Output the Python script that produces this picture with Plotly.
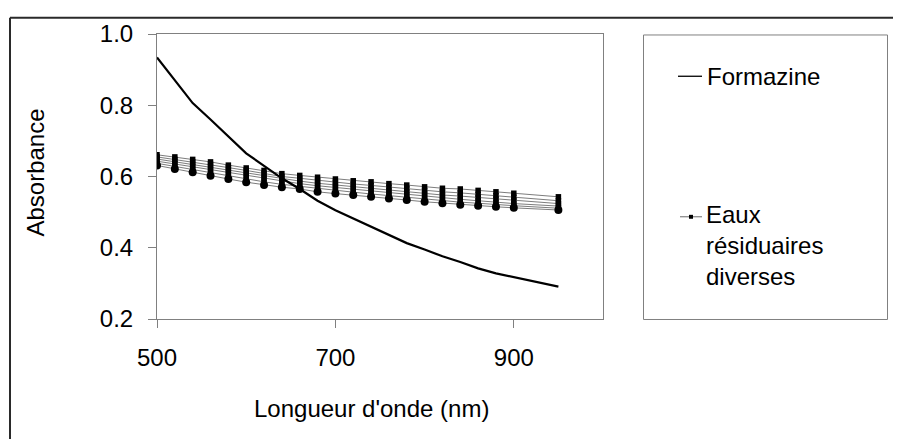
import plotly.graph_objects as go

# ---------------- data ----------------
wavelength = [500, 520, 540, 560, 580, 600, 620, 640, 660, 680, 700,
              720, 740, 760, 780, 800, 820, 840, 860, 880, 900, 950]

formazine = [0.934, 0.870, 0.806, 0.760, 0.712, 0.665, 0.630, 0.595, 0.565, 0.532, 0.505,
             0.482, 0.458, 0.435, 0.413, 0.395, 0.376, 0.360, 0.342, 0.328, 0.317, 0.291]

eaux_1 = [0.661, 0.655, 0.648, 0.641, 0.632, 0.624, 0.617, 0.608, 0.603, 0.598, 0.593,
          0.588, 0.585, 0.580, 0.576, 0.571, 0.567, 0.565, 0.561, 0.557, 0.553, 0.543]
eaux_2 = [0.655, 0.648, 0.641, 0.634, 0.625, 0.617, 0.609, 0.600, 0.595, 0.589, 0.584,
          0.579, 0.575, 0.570, 0.566, 0.561, 0.557, 0.554, 0.550, 0.546, 0.542, 0.532]
eaux_3 = [0.649, 0.641, 0.633, 0.626, 0.617, 0.609, 0.601, 0.593, 0.587, 0.581, 0.576,
          0.571, 0.566, 0.561, 0.557, 0.552, 0.548, 0.545, 0.541, 0.537, 0.533, 0.524]
eaux_4 = [0.643, 0.635, 0.627, 0.619, 0.610, 0.602, 0.594, 0.586, 0.580, 0.574, 0.569,
          0.564, 0.559, 0.554, 0.549, 0.545, 0.540, 0.536, 0.532, 0.528, 0.524, 0.517]
eaux_5 = [0.637, 0.628, 0.619, 0.610, 0.601, 0.593, 0.585, 0.578, 0.572, 0.566, 0.560,
          0.556, 0.551, 0.546, 0.541, 0.537, 0.532, 0.528, 0.525, 0.521, 0.518, 0.511]
eaux_6 = [0.631, 0.621, 0.612, 0.602, 0.593, 0.584, 0.576, 0.570, 0.565, 0.557, 0.552,
          0.548, 0.543, 0.538, 0.534, 0.529, 0.525, 0.521, 0.518, 0.515, 0.512, 0.506]

eaux_series = [eaux_1, eaux_2, eaux_3, eaux_4, eaux_5, eaux_6]

x_ticks = [500, 700, 900]
y_ticks = [0.2, 0.4, 0.6, 0.8, 1.0]

x_title = "Longueur d'onde (nm)"
y_title = "Absorbance"
legend_formazine = "Formazine"
legend_eaux = "Eaux<br>résiduaires<br>diverses"

# ---------------- layout constants (page pixels) ----------------
PAGE_W, PAGE_H = 901, 439
OFF = 8                       # default body margin of the page
W, H = PAGE_W - OFF, PAGE_H - OFF
PLOT_L, PLOT_R, PLOT_T, PLOT_B = 157, 603, 29, 319   # page coordinates
ML = PLOT_L - OFF
MR = W - (PLOT_R - OFF)
MT = PLOT_T - OFF
MB = H - (PLOT_B - OFF)
PW = PLOT_R - PLOT_L
PH = PLOT_B - PLOT_T
FONT = "Liberation Sans, Arial, sans-serif"
FS = 24
FS_LEG = 24


def px_x(p):
    return (p - PLOT_L) / PW


def px_y(p):
    return (PLOT_B - p) / PH


fig = go.Figure()

for i, s in enumerate(eaux_series):
    last = i == len(eaux_series) - 1
    fig.add_trace(go.Scatter(
        x=wavelength, y=s, mode="lines+markers",
        line=dict(color="#444444", width=0.7),
        marker=dict(symbol="circle" if last else "square",
                    size=8 if last else 5.5, color="black",
                    line=dict(width=0)),
        showlegend=False, hoverinfo="skip",
    ))

fig.add_trace(go.Scatter(
    x=wavelength, y=formazine, mode="lines",
    line=dict(color="black", width=2.2),
    showlegend=False, hoverinfo="skip",
))

axis_common = dict(
    showgrid=False, zeroline=False, showline=True, linecolor="#808080",
    linewidth=1, mirror=True, ticks="outside", ticklen=8, tickcolor="#808080",
    tickwidth=1, tickfont=dict(family=FONT, size=FS, color="black"),
)

fig.update_xaxes(range=[500, 1000], tickvals=x_ticks,
                 ticktext=[str(v) for v in x_ticks],
                 ticklabelstandoff=9, **axis_common)
fig.update_yaxes(range=[0.2, 1.0], tickvals=y_ticks,
                 ticktext=[f"{v:.1f}" for v in y_ticks],
                 ticklabelstandoff=10, **axis_common)

EAUX_Y = 215

shapes = []
# outer frame (top and left edges visible)
shapes.append(dict(type="line", xref="paper", yref="paper",
                   x0=px_x(10), x1=px_x(PAGE_W + 10), y0=px_y(12.5), y1=px_y(12.5),
                   line=dict(color="#2a2a2a", width=2)))
shapes.append(dict(type="line", xref="paper", yref="paper",
                   x0=px_x(10), x1=px_x(10), y0=px_y(12.5), y1=px_y(PAGE_H + 10),
                   line=dict(color="#2a2a2a", width=2)))
# legend box
shapes.append(dict(type="rect", xref="paper", yref="paper",
                   x0=px_x(643.5), x1=px_x(887.5), y0=px_y(30), y1=px_y(319.5),
                   line=dict(color="#808080", width=1), fillcolor="rgba(0,0,0,0)"))
# legend samples
shapes.append(dict(type="line", xref="paper", yref="paper",
                   x0=px_x(678), x1=px_x(702), y0=px_y(72), y1=px_y(72),
                   line=dict(color="black", width=1.3)))
shapes.append(dict(type="line", xref="paper", yref="paper",
                   x0=px_x(680), x1=px_x(702), y0=px_y(EAUX_Y), y1=px_y(EAUX_Y),
                   line=dict(color="#444444", width=0.8)))
shapes.append(dict(type="rect", xref="paper", yref="paper",
                   x0=px_x(689), x1=px_x(693), y0=px_y(EAUX_Y - 2), y1=px_y(EAUX_Y + 2),
                   line=dict(width=0), fillcolor="black"))

line_h = 1.3 * FS_LEG
annotations = [
    dict(text=legend_formazine, xref="paper", yref="paper",
         x=px_x(705), y=px_y(72), xanchor="left", yanchor="middle",
         showarrow=False, font=dict(family=FONT, size=FS_LEG, color="black")),
    dict(text=legend_eaux, xref="paper", yref="paper",
         x=px_x(705), y=px_y(EAUX_Y - line_h / 2 - 1), xanchor="left", yanchor="top",
         showarrow=False, align="left", borderpad=0,
         font=dict(family=FONT, size=FS_LEG, color="black")),
    dict(text=x_title, xref="paper", yref="paper",
         x=px_x(371), y=px_y(410), xanchor="center", yanchor="middle",
         showarrow=False, font=dict(family=FONT, size=FS, color="black")),
    dict(text=y_title, xref="paper", yref="paper",
         x=px_x(36), y=px_y(170), xanchor="center", yanchor="middle",
         textangle=-90, showarrow=False,
         font=dict(family=FONT, size=FS, color="black")),
]

fig.update_layout(
    width=W, height=H,
    margin=dict(l=ML, r=MR, t=MT, b=MB),
    paper_bgcolor="white", plot_bgcolor="white",
    shapes=shapes, annotations=annotations,
    showlegend=False,
)

fig.write_html("out.html", config={"displayModeBar": False})
